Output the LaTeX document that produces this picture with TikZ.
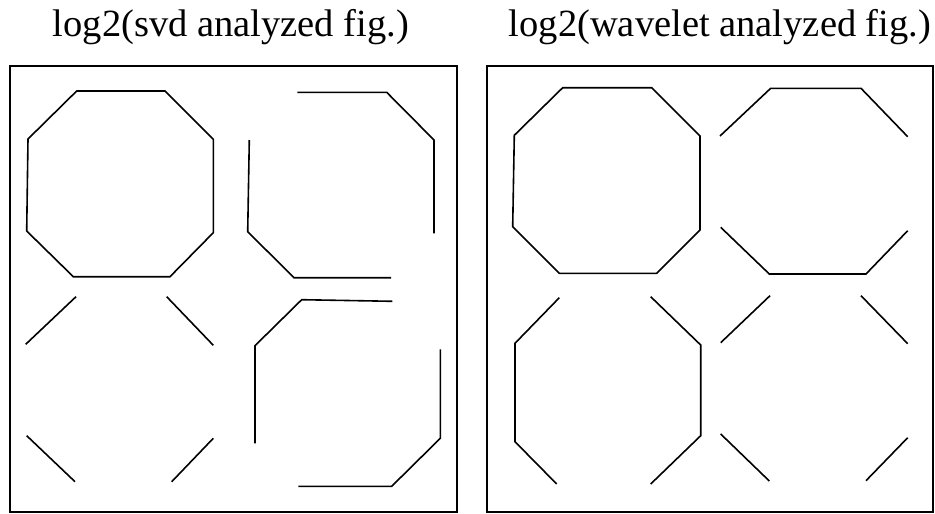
\documentclass[tikz,border=0pt]{standalone}
\usepackage{fontspec}
\setmainfont{Liberation Serif}
\begin{document}
\begin{tikzpicture}[x=1pt,y=-1pt,
  stroke/.style={line width=1.6pt,line join=miter},
  frame/.style={line width=1.8pt},
  title/.style={anchor=base,inner sep=0pt,font=\fontsize{38.5}{44}\selectfont}]
\useasboundingbox (0,0) rectangle (935,514);
% titles
\node[title] (t1) at (231,36) {log2(svd analyzed fig.)};
\node[title] (t2) at (720,36) {log2(wavelet analyzed fig.)};
% frames
\draw[frame] (10,66) rectangle (457,512);
\draw[frame] (487,66) rectangle (933,512);
% ---- left panel ----
\draw[stroke] (76.7,91) -- (165,91) -- (213.3,139.3) -- (213.3,232.7) -- (170,276.7) -- (73.3,276.7) -- (26.7,231) -- (28,139) -- cycle;
\draw[stroke] (297.3,92.3) -- (386.7,92.3) -- (434,140) -- (434,233.3);
\draw[stroke] (249.3,140) -- (247.7,231.7) -- (294,277.7) -- (391,277.7);
\draw[stroke] (76,296.7) -- (25.7,344.3);
\draw[stroke] (166.7,296.7) -- (213.3,345.3);
\draw[stroke] (26.7,435.7) -- (75,481.7);
\draw[stroke] (213.3,438.3) -- (171.7,481.7);
\draw[stroke] (392.3,301.3) -- (301.7,299.7) -- (255,345.7) -- (255,443.3);
\draw[stroke] (440.3,349.3) -- (440.3,438.3) -- (391.7,486.3) -- (298.3,486.3);
% ---- right panel ----
\draw[stroke] (562.7,87.7) -- (651.7,87.7) -- (700,136) -- (700,230) -- (656.7,273.3) -- (559.3,273.3) -- (512.7,226.7) -- (514.3,135.3) -- cycle;
\draw[stroke] (720,136) -- (770.7,88.3) -- (861,88.3) -- (907.7,136.7);
\draw[stroke] (720.7,227.3) -- (769.3,274) -- (866,274) -- (907.7,230.7);
\draw[stroke] (559.3,297.7) -- (515,343.3) -- (515,441.7) -- (556.7,484);
\draw[stroke] (650.7,296.7) -- (700.7,345) -- (700.7,435.7) -- (650.7,484);
\draw[stroke] (770,295.7) -- (720.7,342.7);
\draw[stroke] (861,295.7) -- (907.7,343.7);
\draw[stroke] (720.7,434) -- (769.3,481);
\draw[stroke] (907.7,437.7) -- (866,480.7);
\end{tikzpicture}
\end{document}
